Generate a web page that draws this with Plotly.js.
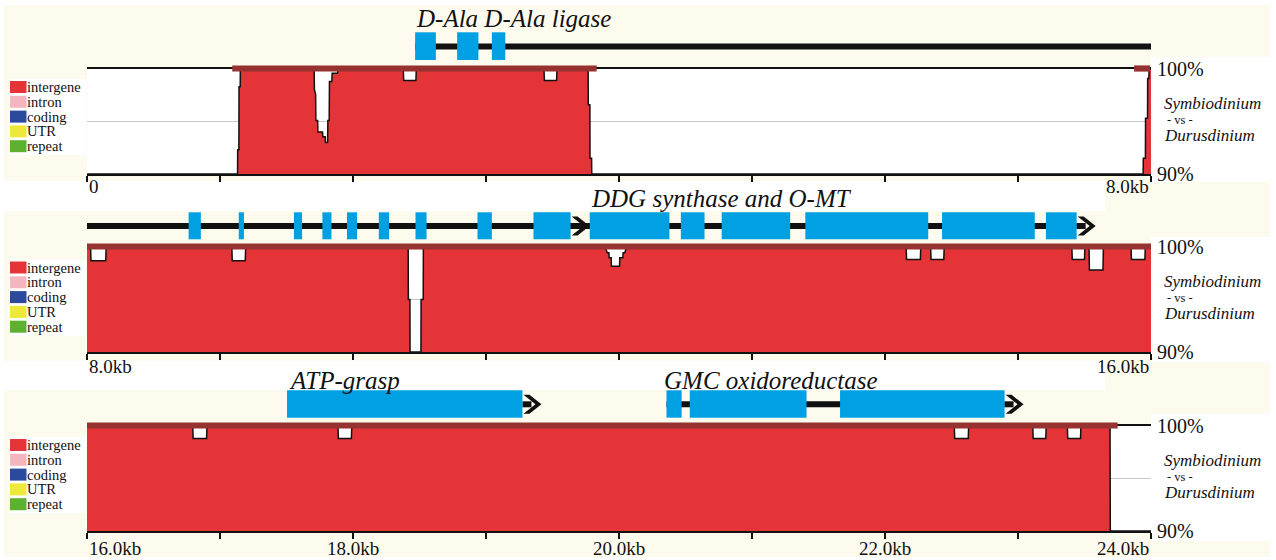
<!DOCTYPE html>
<html><head><meta charset="utf-8">
<script src="https://cdn.plot.ly/plotly-3.0.1.min.js"></script>
<style>html,body{margin:0;padding:0;background:#fff}#chart{width:1276px;height:560px}</style>
</head><body><div id="chart"></div>
<script>
// ================= DATA =================
const legendLabels = ['intergene', 'intron', 'coding', 'UTR', 'repeat'];
const legendColors = ['#e43438', '#f5b5bf', '#2c4a9c', '#eee83a', '#5db131'];

const speciesTop = 'Symbiodinium';
const speciesVs = '- vs -';
const speciesBottom = 'Durusdinium';

const xRanges = [[0, 8000], [8000, 16000], [16000, 24000]];
const tickPositions1 = [0, 1000, 2000, 3000, 4000, 5000, 6000, 7000, 8000];
const tickLabels1 = ['0', '', '', '', '', '', '', '', '8.0kb'];
const tickPositions2 = [8000, 9000, 10000, 11000, 12000, 13000, 14000, 15000, 16000];
const tickLabels2 = ['8.0kb', '', '', '', '', '', '', '', '16.0kb'];
const tickPositions3 = [16000, 17000, 18000, 19000, 20000, 21000, 22000, 23000, 24000];
const tickLabels3 = ['16.0kb', '', '18.0kb', '', '20.0kb', '', '22.0kb', '', '24.0kb'];

const yTickValues = [90, 95, 100];
const yTickLabels = ['90%', '', '100%'];

// conservation curves: [position (bp), identity (%)]
const conservation1 = [
  [0, 90], [1132, 90], [1133, 92.3], [1142, 92.3], [1143, 98.3], [1152, 98.3], [1153, 100],
  [1708, 100], [1710, 98], [1719, 97.6], [1721, 95.1], [1734, 95.1], [1736, 94.0], [1771, 94.0],
  [1773, 93.55], [1791, 93.55], [1793, 93.0], [1809, 93.0], [1811, 95.1], [1821, 95.1],
  [1823, 98.8], [1841, 98.8], [1843, 99.6], [1884, 99.6], [1886, 100],
  [2378, 100], [2381, 98.9], [2473, 98.9], [2476, 100],
  [3436, 100], [3439, 98.9], [3531, 98.9], [3534, 100],
  [3768, 100], [3769, 96.6], [3781, 96.6], [3782, 91.5], [3794, 91.5], [3795, 90],
  [7941, 90], [7942, 91.5], [7958, 91.5], [7959, 95.3], [7974, 95.3], [7975, 99.1], [7984, 99.1], [7986, 100], [8000, 100]
];
const conservation2 = [
  [8000, 100], [8027, 100], [8030, 98.7], [8141, 98.7], [8144, 100],
  [9089, 100], [9092, 98.7], [9190, 98.7], [9193, 100],
  [10415, 100], [10416, 95], [10428, 95], [10429, 90], [10511, 90], [10512, 95], [10528, 95], [10529, 100],
  [11895, 100], [11912, 99.46], [11924, 99.46], [11926, 98.98], [11941, 98.98], [11943, 98.16],
  [12004, 98.16], [12006, 98.98], [12029, 98.98], [12031, 99.46], [12043, 99.46], [12058, 100],
  [14159, 100], [14162, 98.8], [14266, 98.8], [14269, 100],
  [14343, 100], [14346, 98.8], [14442, 98.8], [14445, 100],
  [15405, 100], [15408, 98.8], [15500, 98.8], [15503, 100],
  [15534, 100], [15537, 97.8], [15639, 97.8], [15642, 100],
  [15850, 100], [15853, 98.8], [15954, 98.8], [15957, 100],
  [16000, 100]
];
const conservation3 = [
  [16000, 100], [16795, 100], [16798, 98.8], [16899, 98.8], [16902, 100],
  [17887, 100], [17890, 98.8], [17988, 98.8], [17991, 100],
  [22521, 100], [22524, 98.8], [22626, 98.8], [22629, 100],
  [23111, 100], [23114, 98.8], [23209, 98.8], [23212, 100],
  [23371, 100], [23374, 98.8], [23470, 98.8], [23473, 100],
  [23692, 100], [23694, 90], [24000, 90]
];

// conserved-region bars [start, end] (bp)
const conservedRegions1 = [[1092, 3832], [7873, 7992]];
const conservedRegions2 = [[8000, 16000]];
const conservedRegions3 = [[16000, 23749]];

// gene models (bp)
const geneExons1 = [[2467, 2623], [2783, 2943], [3044, 3145]];
const geneLines1 = [[2467, 8000]];
const geneArrows1 = [];
const geneExons2 = [[8764, 8856], [9141, 9180], [9556, 9617], [9770, 9838], [9955, 10030], [10194, 10271],
  [10470, 10553], [10936, 11044], [11357, 11636], [11780, 12379], [12465, 12643], [12772, 13287],
  [13401, 14325], [14429, 15126], [15210, 15441]];
const geneLines2 = [[8000, 15441]];
const geneArrows2 = [11636, 15441];
const geneExons3 = [[17504, 19274], [20357, 20471], [20532, 21410], [21662, 22899]];
const geneLines3 = [[20357, 22899]];
const geneArrows3 = [19274, 22899];

const geneNames1 = ['D-Ala D-Ala ligase'];
const geneNameStarts1 = [2462];
const geneNames2 = ['DDG synthase and O-MT'];
const geneNameStarts2 = [11776];
const geneNames3 = ['ATP-grasp', 'GMC oxidoreductase'];
const geneNameStarts3 = [17500, 20322];

// ================= LAYOUT / STYLE =================
const W = 1276, H = 560;
const PXx = x => x / W;
const PYy = y => 1 - y / H;
const PLOT_L = 87, PLOT_R = 1151;
const SERIF = 'Liberation Serif';
const CREAM = '#fdfbee';
const RED = '#e43438';
const BAND = '#96322f';
const BLUE = '#00a0e3';

const panels = [
  {top: 69, bot: 174, lineY: 46.5, exonTop: 32.3, exonBot: 60, titleY: 18, labelY: 187, legendY: 87,
   cream: [4, 5, 1270, 200], titleBox: null, rightBox: [1151, 57, 1270, 182],
   data: conservation1, bands: conservedRegions1, exons: geneExons1, lines: geneLines1, arrows: geneArrows1,
   names: geneNames1, nameStarts: geneNameStarts1, ticks: tickPositions1, tickText: tickLabels1},
  {top: 247, bot: 352, lineY: 226, exonTop: 212.3, exonBot: 239.3, titleY: 198, labelY: 366, legendY: 267.5,
   cream: [4, 200, 1270, 376], titleBox: [0, 181, 1105, 211], rightBox: [1151, 237, 1270, 362],
   data: conservation2, bands: conservedRegions2, exons: geneExons2, lines: geneLines2, arrows: geneArrows2,
   names: geneNames2, nameStarts: geneNameStarts2, ticks: tickPositions2, tickText: tickLabels2},
  {top: 426, bot: 531, lineY: 404.3, exonTop: 390.3, exonBot: 417.7, titleY: 380, labelY: 548, legendY: 445,
   cream: [4, 376, 1270, 557], titleBox: [0, 361, 1105, 390], rightBox: [1151, 414, 1270, 541],
   data: conservation3, bands: conservedRegions3, exons: geneExons3, lines: geneLines3, arrows: geneArrows3,
   names: geneNames3, nameStarts: geneNameStarts3, ticks: tickPositions3, tickText: tickLabels3}
];

const traces = [];
const shapes = [];
const annotations = [];
const layout = {
  width: W, height: H,
  margin: {l: 0, r: 0, t: 0, b: 0, pad: 0},
  paper_bgcolor: '#ffffff',
  plot_bgcolor: 'rgba(0,0,0,0)',
  showlegend: false,
  font: {family: SERIF, color: '#111'}
};

function rectPaper(b, color) {
  shapes.push({type: 'rect', xref: 'paper', yref: 'paper', layer: 'below',
    x0: PXx(b[0]), x1: PXx(b[2]), y0: PYy(b[3]), y1: PYy(b[1]),
    fillcolor: color, line: {width: 0}});
}

// background layers
panels.forEach(p => rectPaper(p.cream, CREAM));
panels.forEach((p, i) => {
  if (p.titleBox) rectPaper(p.titleBox, '#ffffff');
  rectPaper(p.rightBox, '#ffffff');
  rectPaper([PLOT_L, p.top, PLOT_R, p.bot], '#ffffff');
  const n = legendLabels.length;
  rectPaper([9, p.legendY - 8, 86, p.legendY + 14.8 * (n - 1) + 9], '#ffffff');
});

const bpPerPx = 8000 / (PLOT_R - PLOT_L);

panels.forEach((p, i) => {
  const k = i === 0 ? '' : String(i + 1);
  const xa = 'x' + k, ya = 'y' + k;
  layout['xaxis' + k] = {
    domain: [PXx(PLOT_L), PXx(PLOT_R)], anchor: ya, range: xRanges[i],
    showline: true, mirror: true, linecolor: '#111', linewidth: 1.6,
    ticks: 'outside', ticklen: 6, tickwidth: 1.4, tickcolor: '#111',
    tickvals: p.ticks, showticklabels: false, showgrid: false, zeroline: false, fixedrange: true
  };
  layout['yaxis' + k] = {
    domain: [PYy(p.bot), PYy(p.top)], anchor: xa, side: 'right', range: [90, 100],
    tickvals: yTickValues, ticktext: yTickLabels, ticks: '', ticklabelstandoff: 5,
    tickfont: {family: SERIF, size: 20, color: '#111'},
    showgrid: true, gridcolor: '#c9c9c9', gridwidth: 1, zeroline: false, showline: false, fixedrange: true
  };

  traces.push({
    type: 'scatter', mode: 'lines', xaxis: xa, yaxis: ya,
    x: p.data.map(d => d[0]), y: p.data.map(d => d[1]),
    fill: 'tozeroy', fillcolor: RED, line: {color: '#111', width: 1.5}, hoverinfo: 'skip'
  });

  // conserved bands
  p.bands.forEach(b => shapes.push({type: 'rect', xref: xa, yref: 'paper', x0: b[0], x1: b[1],
    y0: PYy(p.top + 2.6), y1: PYy(p.top - 3.6), fillcolor: BAND, line: {width: 0}}));

  // gene lines
  p.lines.forEach(l => shapes.push({type: 'rect', xref: xa, yref: 'paper', x0: l[0], x1: l[1],
    y0: PYy(p.lineY + 3), y1: PYy(p.lineY - 3), fillcolor: '#111', line: {width: 0}}));
  // arrows
  p.arrows.forEach(a => {
    const w = 19 * bpPerPx, t = 7 * bpPerPx, h = 9.5;
    const ym = PYy(p.lineY), yt = PYy(p.lineY - h), yb = PYy(p.lineY + h);
    shapes.push({type: 'rect', xref: xa, yref: 'paper', x0: a, x1: a + t + 2 * bpPerPx,
      y0: PYy(p.lineY + 3), y1: PYy(p.lineY - 3), fillcolor: '#111', line: {width: 0}});
    shapes.push({type: 'path', xref: xa, yref: 'paper',
      path: `M ${a + 1 * bpPerPx},${yt} L ${a + t},${yt} L ${a + w},${ym} L ${a + t},${yb} L ${a + 1 * bpPerPx},${yb} L ${a + w - t + 1 * bpPerPx},${ym} Z`,
      fillcolor: '#111', line: {width: 0}});
  });
  // exons
  p.exons.forEach(e => shapes.push({type: 'rect', xref: xa, yref: 'paper', x0: e[0], x1: e[1],
    y0: PYy(p.exonBot), y1: PYy(p.exonTop), fillcolor: BLUE, line: {width: 0}}));

  // gene names
  p.names.forEach((nm, j) => annotations.push({xref: xa, yref: 'paper', x: p.nameStarts[j], y: PYy(p.titleY),
    xanchor: 'left', yanchor: 'middle', showarrow: false, text: '<i>' + nm + '</i>',
    font: {family: SERIF, size: 25, color: '#111'}}));

  // x tick labels
  p.ticks.forEach((tv, j) => {
    const txt = p.tickText[j];
    if (!txt) return;
    const anchor = j === 0 ? 'left' : (j === p.ticks.length - 1 ? 'right' : 'center');
    annotations.push({xref: xa, yref: 'paper', x: tv, y: PYy(p.labelY), xanchor: anchor, yanchor: 'middle',
      showarrow: false, text: txt, font: {family: SERIF, size: 19, color: '#111'}});
  });

  // legend
  legendLabels.forEach((lab, j) => {
    const cy = p.legendY + 14.8 * j;
    shapes.push({type: 'rect', xref: 'paper', yref: 'paper', x0: PXx(10), x1: PXx(26.5),
      y0: PYy(cy + 6), y1: PYy(cy - 6), fillcolor: legendColors[j], line: {width: 0}});
    annotations.push({xref: 'paper', yref: 'paper', x: PXx(26), y: PYy(cy), xanchor: 'left', yanchor: 'middle',
      showarrow: false, borderpad: 0, text: lab, font: {family: SERIF, size: 14.5, color: '#111'}});
  });

  // species labels
  annotations.push({xref: 'paper', yref: 'paper', x: PXx(1163), y: PYy(p.top + 34.5), xanchor: 'left', yanchor: 'middle',
    showarrow: false, borderpad: 0, text: '<i>' + speciesTop + '</i>', font: {family: SERIF, size: 17, color: '#111'}});
  annotations.push({xref: 'paper', yref: 'paper', x: PXx(1166), y: PYy(p.top + 50.5), xanchor: 'left', yanchor: 'middle',
    showarrow: false, borderpad: 0, text: speciesVs, font: {family: SERIF, size: 12.5, color: '#111'}});
  annotations.push({xref: 'paper', yref: 'paper', x: PXx(1163), y: PYy(p.top + 66), xanchor: 'left', yanchor: 'middle',
    showarrow: false, borderpad: 0, text: '<i>' + speciesBottom + '</i>', font: {family: SERIF, size: 17, color: '#111'}});
});

layout.shapes = shapes;
layout.annotations = annotations;

Plotly.newPlot('chart', traces, layout, {displayModeBar: false, staticPlot: true});
</script>
</body></html>
